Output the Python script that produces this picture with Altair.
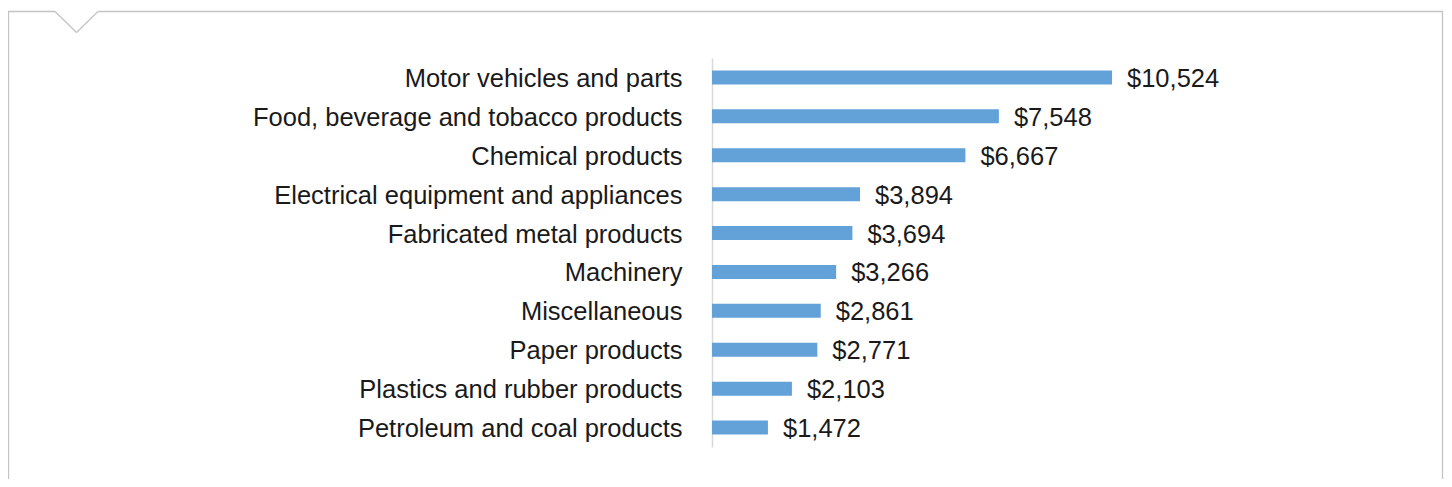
import altair as alt
import pandas as pd

categories = [
    "Motor vehicles and parts",
    "Food, beverage and tobacco products",
    "Chemical products",
    "Electrical equipment and appliances",
    "Fabricated metal products",
    "Machinery",
    "Miscellaneous",
    "Paper products",
    "Plastics and rubber products",
    "Petroleum and coal products",
]
values = [10524, 7548, 6667, 3894, 3694, 3266, 2861, 2771, 2103, 1472]

df = pd.DataFrame({"category": categories, "value": values})
df["label"] = ["${:,}".format(v) for v in values]

FONT = "Liberation Sans"
FS = 25.5
W, H = 400, 389

y_enc = alt.Y(
    "category:N",
    sort=categories,
    scale=alt.Scale(paddingInner=0, paddingOuter=0),
    axis=alt.Axis(
        title=None, ticks=False, labelFontSize=FS, labelFont=FONT,
        labelColor="#1a1a1a", labelPadding=30, labelLimit=700,
        domainColor="#d9d9d9", domainWidth=1.5, grid=False, labelOffset=1.5,
    ),
)
x_enc = alt.X(
    "value:Q",
    scale=alt.Scale(domain=[0, 10524], nice=False),
    axis=None,
)

base = alt.Chart(df)
bars = base.mark_bar(color="#62a2d8", size=14).encode(x=x_enc, y=y_enc)
texts = base.mark_text(
    align="left", baseline="middle", dx=15, dy=1.5, fontSize=FS, font=FONT, color="#1a1a1a"
).encode(x=x_enc, y=y_enc, text="label:N")

one = pd.DataFrame({"a": [0]})
FC = "#c4c4c4"
OX, OY = 712, 58


def seg(x1, y1, x2, y2):
    return alt.Chart(one).mark_rule(color=FC, strokeWidth=1.3).encode(
        x=alt.value(x1 - OX), y=alt.value(y1 - OY),
        x2=alt.value(x2 - OX), y2=alt.value(y2 - OY),
    )


frame = [
    seg(8.5, 11.5, 8.5, 480),
    seg(8, 11.5, 55, 11.5),
    seg(55, 11.5, 76.5, 32.5),
    seg(76.5, 32.5, 98, 11.5),
    seg(98, 11.5, 1443, 11.5),
    seg(1442.5, 11.5, 1442.5, 480),
]

chart = alt.layer(bars, texts, *frame).properties(
    width=W, height=H,
    background="white",
    autosize=alt.AutoSizeParams(type="none"),
    padding={"left": OX - 8, "top": OY - 8, "right": 1436 - (OX - 8) - W, "bottom": 471 - (OY - 8) - H},
).configure_view(stroke=None, strokeWidth=0)

chart.save("out.html", embed_options={"renderer": "svg", "actions": False})
